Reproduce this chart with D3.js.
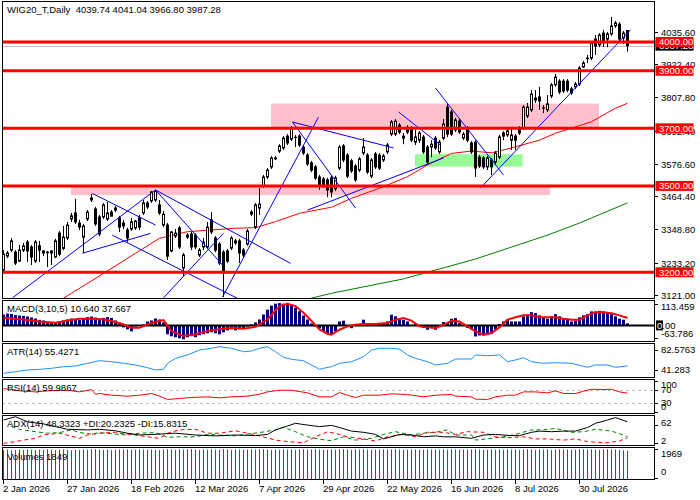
<!DOCTYPE html>
<html>
<head>
<meta charset="utf-8">
<script src="https://cdn.jsdelivr.net/npm/d3@7"></script>
<style>
  body { margin: 0; background: #fff; }
  text { font-family: "Liberation Sans", Arial, sans-serif; font-size: 9.5px; }
</style>
</head>
<body>
<svg id="chart" width="700" height="500"></svg>
<script>
// ---- price data (daily bars) ----
var opens = [3208,3256,3277,3270,3239,3277,3305,3288,3239,3292,3274,3270,3267,3253,3336,3283,3319,3385,3406,3371,
  3322,3385,3451,3420,3392,3392,3385,3409,3423,3389,3371,3347,3350,3354,3389,3406,3441,3448,3451,3434,
  3364,3364,3274,3326,3354,3215,3329,3333,3329,3260,3288,3288,3382,3319,3298,3270,3274,3284,3302,3309,
  3277,3298,3402,3357,3423,3500,3531,3566,3597,3621,3632,3673,3663,3669,3673,3635,3607,3580,3566,3531,
  3524,3521,3528,3490,3562,3639,3607,3587,3569,3555,3614,3607,3534,3611,3607,3590,3618,3680,3680,3711,
  3666,3704,3701,3652,3659,3670,3635,3635,3666,3618,3666,3774,3757,3694,3725,3666,3701,3649,3652,3600,
  3597,3566,3590,3583,3600,3684,3677,3659,3673,3701,3701,3743,3764,3798,3809,3770,3764,3812,3851,3864,
  3864,3864,3837,3844,3854,3913,3944,3944,4010,3990,4031,4010,4028,4056,4062,4014,4039.74];
var highs = [3277,3274,3319,3277,3295,3302,3312,3295,3312,3309,3277,3274,3277,3316,3343,3361,3375,3406,3455,3382,
  3368,3416,3472,3427,3399,3441,3444,3416,3430,3396,3382,3354,3389,3382,3399,3451,3448,3482,3486,3451,
  3413,3371,3343,3350,3361,3267,3336,3340,3336,3284,3319,3375,3409,3326,3305,3277,3281,3326,3316,3316,
  3284,3350,3416,3441,3493,3538,3562,3604,3604,3645,3673,3680,3708,3677,3680,3642,3614,3587,3573,3538,
  3531,3528,3535,3535,3642,3645,3614,3594,3576,3600,3666,3614,3597,3618,3614,3611,3649,3729,3732,3718,
  3684,3711,3708,3694,3690,3677,3642,3659,3673,3659,3732,3788,3764,3736,3732,3687,3708,3656,3659,3607,
  3604,3604,3597,3621,3677,3690,3698,3701,3680,3708,3781,3788,3833,3833,3844,3781,3816,3858,3889,3871,
  3871,3871,3844,3861,3916,3934,3955,4003,4024,4031,4042,4035,4087,4073,4069,4038,4041.04];
var lows = [3198,3249,3270,3225,3236,3270,3236,3225,3232,3236,3256,3218,3225,3249,3256,3277,3312,3375,3368,3347,
  3267,3378,3444,3361,3325,3385,3378,3395,3409,3340,3350,3305,3343,3347,3347,3399,3420,3441,3444,3399,
  3357,3243,3270,3319,3281,3184,3316,3277,3281,3253,3277,3281,3333,3270,3225,3114,3232,3277,3295,3232,
  3253,3292,3395,3350,3399,3493,3524,3559,3590,3614,3625,3642,3656,3635,3635,3607,3569,3548,3521,3486,
  3493,3461,3461,3482,3555,3583,3527,3545,3514,3548,3607,3541,3527,3559,3555,3583,3611,3673,3673,3680,
  3645,3680,3652,3642,3649,3611,3573,3600,3625,3611,3659,3670,3673,3687,3680,3659,3652,3611,3531,3562,
  3559,3555,3538,3576,3593,3659,3670,3625,3625,3677,3694,3736,3757,3788,3764,3753,3757,3805,3844,3819,
  3823,3826,3816,3837,3847,3910,3927,3937,3955,3982,3982,3982,4021,4049,4003,3993,3966.80];
var closes = [3263,3267,3309,3232,3277,3292,3274,3253,3305,3277,3267,3268,3274,3309,3263,3322,3364,3396,3375,3357,
  3361,3409,3458,3368,3333,3434,3406,3395,3416,3357,3361,3319,3375,3378,3357,3441,3427,3479,3482,3406,
  3402,3256,3340,3336,3288,3260,3322,3288,3288,3277,3305,3357,3340,3277,3232,3197,3239,3319,3309,3267,
  3260,3343,3409,3434,3437,3531,3555,3597,3594,3639,3666,3649,3701,3668,3642,3614,3576,3555,3527,3503,
  3500,3486,3479,3528,3635,3590,3534,3552,3521,3594,3635,3548,3590,3566,3562,3604,3642,3722,3725,3687,
  3673,3687,3659,3670,3684,3618,3583,3645,3632,3652,3715,3680,3680,3729,3687,3680,3659,3618,3562,3569,
  3566,3597,3566,3614,3670,3673,3691,3677,3659,3684,3774,3774,3819,3805,3795,3771,3785,3851,3878,3826,
  3830,3833,3823,3854,3910,3927,3942,3996,3986,4024,4000,4028,4056,4066,4010,4031,3987.28];
var volumes = [1890,1925,1880,1910,1935,1900,1940,1915,1890,1930,
  1905,1950,1920,1895,1930,1945,1910,1885,1920,1900,
  1935,1915,1940,1960,1925,1905,1930,1890,1915,1945,
  1920,1950,1910,1935,1955,1925,1900,1940,1915,1890,
  1930,1960,1935,1910,1945,1920,1950,1965,1930,1905,
  1940,1920,1955,1930,1910,1969,1940,1915,1945,1925,
  1900,1935,1950,1920,1945,1960,1930,1905,1940,1915,
  1950,1925,1945,1910,1935,1955,1920,1940,1960,1930,
  1900,1925,1950,1915,1940,1960,1935,1910,1945,1920,
  1955,1930,1905,1940,1915,1950,1925,1945,1960,1930,
  1910,1935,1920,1945,1900,1930,1955,1925,1940,1915,
  1950,1930,1960,1935,1910,1945,1920,1940,1965,1930,
  1905,1925,1950,1915,1940,1920,1955,1930,1945,1910,
  1935,1960,1940,1915,1950,1925,1945,1900,1930,1955,
  1925,1945,1910,1935,1960,1940,1920,1950,1930,1915,
  1940,1955,1925,1945,1910,1880,1849];

// ---- chart objects ----
var levels = [4000, 3900, 3700, 3500, 3200];
var lastPrice = 3987.28;
var pinkZones = [[17, 3500, 136.75, 3468], [67, 3786, 149, 3700]];
var greenZones = [[103, 3610, 129.9, 3567]];
var trendLines = [
  [2.25, 3111, 38, 3486], [19.7, 3266, 36.75, 3335], [22.2, 3474, 38, 3364],
  [27.2, 3329, 58.4, 3110], [38, 3486, 71.75, 3231], [38, 3486, 54.75, 3225],
  [40, 3111, 55, 3336], [54.75, 3114, 78.75, 3739], [72.25, 3722, 97.5, 3632],
  [72.25, 3722, 88, 3423], [76, 3416, 110, 3597], [108, 3840, 125, 3538],
  [98.75, 3757, 109.25, 3642], [119.25, 3493, 156.75, 4042]
];
var maRedIdx = [12,15,17,25,33,39,46,58,63,68,74,82,87,94,101,106,112,117,122,127,134,138,147,153,156];
var maRed = [3085,3110,3127,3196,3266,3318,3341,3353,3355,3376,3405,3426,3457,3492,3532,3573,3613,3621,3615,3632,3659,3683,3723,3770,3787];
var maGreenIdx = [74,82,100,118,136,144,156];
var maGreen = [3100,3127,3177,3246,3329,3371,3441];

// ---- indicators ----
var macdHist = [55,60,58,52,50,48,45,40,35, 28,25,20,18,15, 20,25,30,35,30,28,35, 42,45,40,35,38,42,38, 25,15,
  -10,-20,-30, -5,0,5, 20,25,35,30,15, -45,-55,-60,-65,-70,-60,-55,-60, -50,-45,-40,-35,-40,-45,
  -35,-25,-20,-25,-20,-15, -5,5,15, 30,55,80,100,110,113,110,105,100, 90,72,50,30, 10,-5, -15,-30,-45, -44,-30,
  20,24,2,-14,-2,0,29,12,7,12,7,10,20,54,46,34,28,20,0,7,-5,-13,-22,-13,-22,-5,17,12,34,37,12,0,-13,-22,
  -56,-51,-51,-47,-44,-22,7,20,29,20,20,20,46,54,67,62,51,41,34,46,57,46,37,34,20,24,41,51,57,71,71,74,71,
  62,57,46,34,29,10.64];
var macdSigIdx = [0,5,10,13,16,19,22,25,28,30,32,34,36,38,40,42,45,48,51,54,57,60,63,66,69,71,73,75,77,79,81,82,84,86,88,90,93,96,98,100,102,104,106,108,110,112,114,116,118,120,122,124,126,128,130,132,134,136,138,140,142,144,146,148,150,152,154,156];
var macdSig = [39,30,17,13,25,34,34,30,17,5,-12,-12,5,17,27,-29,-54,-45,-29,-20,-12,-17,-7,30,98,110,98,64,22,-20,-42,-47,-22,-5,3,7,7,12,29,37,24,-5,-10,-13,3,24,20,-5,-30,-47,-39,-10,29,41,51,51,41,41,41,34,29,29,51,67,67,62,51,37.667];
var atrIdx = [0,3,6,9,12,15,18,21,24,27,30,33,36,38,40,41,43,46,49,52,54,57,60,62,64,66,68,70,72,75,77,79,80,82,84,87,90,92,94,97,99,101,103,106,108,111,113,117,118,121,124,126,128,130,132,135,138,142,146,148,151,153,156];
var atrVal = [34.5,37.8,41.3,42.7,44.8,48.1,49.6,55.1,60.5,58.4,55.1,51.6,46.0,41.3,42.7,55.1,65.4,72.3,82.6,86.1,89.4,86.1,79.1,80.5,86.1,89.4,79.1,67.5,63.4,60.5,51.6,42.7,44.8,48.1,55.1,58.4,68.7,82.6,86.1,86.1,84.6,72.3,65.4,58.4,51.6,55.1,64.0,64.0,72.3,70.8,72.3,58.4,62.0,66.7,58.4,55.1,56.4,55.1,46.8,51.6,51.6,46.8,49.6];
var rsiIdx = [0,2,4,8,11,16,19,22,23,24,27,31,34,37,39,41,44,47,51,54,57,61,64,66,69,72,76,79,82,84,86,88,90,94,97,101,105,108,112,113,117,118,121,123,126,128,130,133,136,138,140,143,145,147,150,152,154,156];
var rsiVal = [74,71,67,64,67,69,64,71,57,59,54,51,54,59,51,41,44,47,49,46,49,51,57,64,69,69,61,49,49,62,54,47,54,54,58,56,49,54,56,51,49,42,41,49,54,54,64,64,61,67,59,59,66,72,71,72,64,60];
var rsiLevels = [70, 30];
var adxIdx = [0,3,6,10,13,16,21,24,28,31,34,39,43,48,53,58,63,66,68,71,73,76,79,82,84,87,90,93,95,97,99,102,105,108,110,113,117,120,123,127,129,132,134,137,140,143,146,148,151,153,156];
var adxVal = [80,91,74,67,58,49,47,49,44,36,30,33,36,30,27,30,28,32,47,60,69,63,58,62,55,43,39,32,17,24,32,30,24,27,24,24,19,30,32,28,28,39,43,41,43,43,55,69,80,88,74];
var pdiIdx = [2,4,8,11,14,17,19,22,24,28,31,34,38,41,44,48,51,54,58,61,64,68,70,73,76,79,82,85,88,92,95,98,102,105,108,111,113,117,118,122,125,128,132,135,138,142,145,148,152,155,156];
var pdiVal = [58,49,41,36,38,47,38,33,38,33,30,36,38,22,24,24,32,30,27,33,38,47,56,41,24,16,11,24,13,19,32,41,30,36,39,47,30,30,13,19,24,32,47,47,52,39,41,49,43,30,24];
var mdiIdx = [0,3,5,8,10,14,19,21,24,28,29,33,36,39,41,44,48,51,54,58,61,64,68,71,75,78,81,84,86,90,93,96,100,103,106,110,113,116,120,123,126,130,133,136,140,143,146,148,151,154,156];
var mdiVal = [2,8,13,19,30,36,19,30,36,39,36,30,24,19,36,47,49,36,36,44,36,27,13,8,4,24,41,32,24,17,10,24,32,24,39,39,32,41,39,24,21,24,17,17,13,17,8,6,4,10,21];

// ---- axis labels ----
var priceTicks = [4035.60, 3922.40, 3807.80, 3692.40, 3576.60, 3464.40, 3348.80, 3233.20, 3121.00];
var dateTickIdx = [0, 16, 32, 48, 64, 80, 96, 112, 128, 144];
var dateTickLabels = ["2 Jan 2026", "27 Jan 2026", "18 Feb 2026", "12 Mar 2026", "7 Apr 2026",
  "29 Apr 2026", "22 May 2026", "16 Jun 2026", "8 Jul 2026", "30 Jul 2026"];

// ---- layout ----
var svg = d3.select("#chart");
var left = 2, right = 654;
var panes = {main: [1, 298], macd: [300, 341], atr: [343, 377], rsi: [379, 413], adx: [415, 445], vol: [447, 479]};

var x = d3.scaleLinear().domain([0, 156]).range([3.5, 627.5]);
var yP = d3.scaleLinear().domain([3110.6, 4135.4]).range([298, 3]);
var yMacd = d3.scaleLinear().domain([-63.786, 113.459]).range([338, 303]);
var yAtr = d3.scaleLinear().domain([82.5763, 41.283]).range([350, 370]);
var yRsi = d3.scaleLinear().domain([0, 100]).range([413, 380]);
var yAdx = d3.scaleLinear().domain([0, 100]).range([444, 414]);
var yVol = d3.scaleLinear().domain([0, 1969]).range([479, 449]);

svg.append("rect").attr("width", 700).attr("height", 500).attr("fill", "#fff");
var defs = svg.append("defs");
Object.keys(panes).forEach(function(k) {
  defs.append("clipPath").attr("id", "clip-" + k)
    .append("rect").attr("x", left + 1).attr("y", panes[k][0] + 1)
    .attr("width", right - left - 1).attr("height", panes[k][1] - panes[k][0] - 1);
});
function pane(k) { return svg.append("g").attr("clip-path", "url(#clip-" + k + ")"); }

function sparse(g, idx, vals, yScale, color, width, dash) {
  var pts = idx.map(function(d, k) { return [d, vals[k]]; });
  g.append("path").datum(pts)
    .attr("d", d3.line().x(function(d) { return x(d[0]); }).y(function(d) { return yScale(d[1]); }))
    .attr("fill", "none").attr("stroke", color).attr("stroke-width", width)
    .attr("stroke-dasharray", dash || null);
}

// ---- main chart ----
var gm = pane("main");
pinkZones.forEach(function(z) {
  gm.append("rect").attr("x", x(z[0]) - 0.5).attr("y", yP(Math.max(z[1], z[3])))
    .attr("width", x(z[2]) - x(z[0])).attr("height", Math.abs(yP(z[1]) - yP(z[3])))
    .attr("fill", "#ffc0cb");
});
greenZones.forEach(function(z) {
  gm.append("rect").attr("x", x(z[0]) - 0.5).attr("y", yP(Math.max(z[1], z[3])))
    .attr("width", x(z[2]) - x(z[0])).attr("height", Math.abs(yP(z[1]) - yP(z[3])))
    .attr("fill", "#98fb98");
});
gm.append("line").attr("x1", left).attr("x2", right)
  .attr("y1", Math.round(yP(lastPrice)) + 0.5).attr("y2", Math.round(yP(lastPrice)) + 0.5)
  .attr("stroke", "#c0c0c0").attr("stroke-width", 1);
sparse(gm, maRedIdx, maRed, yP, "#ff0000", 1);
sparse(gm, maGreenIdx, maGreen, yP, "#008000", 1);

var candles = gm.selectAll("g.candle").data(d3.range(opens.length)).enter().append("g");
candles.append("line")
  .attr("x1", function(i) { return x(i); }).attr("x2", function(i) { return x(i); })
  .attr("y1", function(i) { return yP(highs[i]); }).attr("y2", function(i) { return yP(lows[i]); })
  .attr("stroke", "#000").attr("stroke-width", 1);
candles.append("rect")
  .attr("x", function(i) { return x(i) - 1; }).attr("width", 2)
  .attr("y", function(i) { return yP(Math.max(opens[i], closes[i])); })
  .attr("height", function(i) { return Math.max(0.01, yP(Math.min(opens[i], closes[i])) - yP(Math.max(opens[i], closes[i]))); })
  .attr("fill", function(i) { return closes[i] >= opens[i] ? "#fff" : "#000"; })
  .attr("stroke", "#000").attr("stroke-width", 1);

gm.selectAll("line.trend").data(trendLines).enter().append("line")
  .attr("x1", function(d) { return x(d[0]); }).attr("y1", function(d) { return yP(d[1]); })
  .attr("x2", function(d) { return x(d[2]); }).attr("y2", function(d) { return yP(d[3]); })
  .attr("stroke", "#0000ff").attr("stroke-width", 1);

gm.selectAll("line.level").data(levels).enter().append("line")
  .attr("x1", left).attr("x2", right)
  .attr("y1", function(d) { return yP(d); }).attr("y2", function(d) { return yP(d); })
  .attr("stroke", "#ff0000").attr("stroke-width", 3);

svg.append("text").attr("x", 7).attr("y", 13).text("WIG20_T,Daily  4039.74 4041.04 3966.80 3987.28")
  .attr("xml:space", "preserve");

// price axis
priceTicks.forEach(function(v) {
  var yy = Math.round(yP(v)) + 0.5;
  svg.append("line").attr("x1", right).attr("x2", right + 4).attr("y1", yy).attr("y2", yy).attr("stroke", "#000");
  svg.append("text").attr("x", 661).attr("y", yy).attr("dy", "0.35em").text(v.toFixed(2));
});
var ly = yP(lastPrice);
svg.append("rect").attr("x", 655.5).attr("y", ly - 5).attr("width", 38).attr("height", 10).attr("fill", "#000");
svg.append("text").attr("x", 659).attr("y", ly).attr("dy", "0.35em").attr("fill", "#fff").text(lastPrice.toFixed(2));
levels.forEach(function(v) {
  var yy = yP(v);
  svg.append("rect").attr("x", 655.5).attr("y", yy - 5).attr("width", 38).attr("height", 10).attr("fill", "#ff0000");
  svg.append("text").attr("x", 659).attr("y", yy).attr("dy", "0.35em").attr("fill", "#fff").text(v.toFixed(2));
});

// ---- MACD ----
var gmacd = pane("macd");
gmacd.selectAll("rect").data(macdHist).enter().append("rect")
  .attr("x", function(d, i) { return x(i) - 1.5; }).attr("width", 3)
  .attr("y", function(d) { return Math.min(yMacd(d), yMacd(0)); })
  .attr("height", function(d) { return Math.abs(yMacd(d) - yMacd(0)); })
  .attr("fill", "#000080");
gmacd.append("line").attr("x1", left).attr("x2", right).attr("y1", yMacd(0)).attr("y2", yMacd(0))
  .attr("stroke", "#000").attr("stroke-width", 2);
sparse(gmacd, macdSigIdx, macdSig, yMacd, "#ff0000", 2);

// ---- ATR ----
sparse(pane("atr"), atrIdx, atrVal, yAtr, "#1e90ff", 1);

// ---- RSI ----
var grsi = pane("rsi");
rsiLevels.forEach(function(v) {
  grsi.append("line").attr("x1", left).attr("x2", right).attr("y1", Math.round(yRsi(v)) + 0.5).attr("y2", Math.round(yRsi(v)) + 0.5)
    .attr("stroke", "#c0c0c0").attr("stroke-dasharray", "3,3");
});
sparse(grsi, rsiIdx, rsiVal, yRsi, "#ff0000", 1);

// ---- ADX ----
var gadx = pane("adx");
sparse(gadx, pdiIdx, pdiVal, yAdx, "#008000", 1, "4,3");
sparse(gadx, mdiIdx, mdiVal, yAdx, "#ff0000", 1, "4,3");
sparse(gadx, adxIdx, adxVal, yAdx, "#000", 1);

// ---- Volumes ----
var gvol = pane("vol");
gvol.selectAll("line").data(volumes).enter().append("line")
  .attr("x1", function(d, i) { return x(i); }).attr("x2", function(d, i) { return x(i); })
  .attr("y1", yVol(0)).attr("y2", function(d) { return yVol(d); })
  .attr("stroke", function(d, i) { return (i === 0 || d > volumes[i - 1]) ? "#008000" : "#ff0000"; })
  .attr("stroke-width", 1);

// ---- pane titles ----
var titles = [["MACD(3,10,5) 10.640 37.667", 312], ["ATR(14) 55.4271", 355], ["RSI(14) 59.9867", 391],
  ["ADX(14) 48.3323 +DI:20.2325 -DI:15.8315", 427], ["Volumes 1849", 460]];
titles.forEach(function(t) { svg.append("text").attr("x", 7).attr("y", t[1]).text(t[0]); });

// ---- side labels of the indicator panes ----
function sideLabel(txt, yy, tickY) {
  if (tickY != null) {
    svg.append("line").attr("x1", right).attr("x2", right + 4).attr("y1", tickY).attr("y2", tickY).attr("stroke", "#000");
  }
  svg.append("text").attr("x", 661).attr("y", yy).attr("dy", "0.35em").text(txt);
}
sideLabel("113.459", 307, Math.round(yMacd(113.459)) + 1.5);
svg.append("rect").attr("x", 656).attr("y", yMacd(0) - 5).attr("width", 7).attr("height", 10).attr("fill", "#000");
var zt = svg.append("text").attr("x", 657).attr("y", yMacd(0)).attr("dy", "0.35em");
zt.append("tspan").attr("fill", "#fff").text("0");
zt.append("tspan").attr("fill", "#000").text(".00");
sideLabel("-63.786", 334, Math.round(yMacd(-63.786)) + 0.5);
sideLabel("82.5763", yAtr(82.5763), Math.round(yAtr(82.5763)) + 0.5);
sideLabel("41.283", yAtr(41.283), Math.round(yAtr(41.283)) + 0.5);
sideLabel("100", 385, Math.round(yRsi(100)) + 1.5);
sideLabel("70", yRsi(70), Math.round(yRsi(70)) + 0.5);
sideLabel("30", yRsi(30), Math.round(yRsi(30)) + 0.5);
sideLabel("0", 407, Math.round(yRsi(0)) - 0.5);
sideLabel("62", yAdx(62) - 3, Math.round(yAdx(62)) + 0.5);
sideLabel("2", yAdx(2) - 3, Math.round(yAdx(2)) + 0.5);
sideLabel("1969", 454, Math.round(yVol(1969)) + 0.5);
sideLabel("0", 472, Math.round(yVol(0)) - 0.5);

// ---- pane frames ----
Object.keys(panes).forEach(function(k) {
  svg.append("rect").attr("x", left + 0.5).attr("y", panes[k][0] + 0.5)
    .attr("width", right - left).attr("height", panes[k][1] - panes[k][0])
    .attr("fill", "none").attr("stroke", "#000").attr("stroke-width", 1);
});

// ---- date axis ----
dateTickIdx.forEach(function(i, k) {
  var tx = x(i) - 0.5;
  svg.append("line").attr("x1", tx + 0.5).attr("x2", tx + 0.5).attr("y1", 479).attr("y2", 484).attr("stroke", "#000");
  svg.append("text").attr("x", tx).attr("y", 492).text(dateTickLabels[k]);
});
</script>
</body>
</html>
